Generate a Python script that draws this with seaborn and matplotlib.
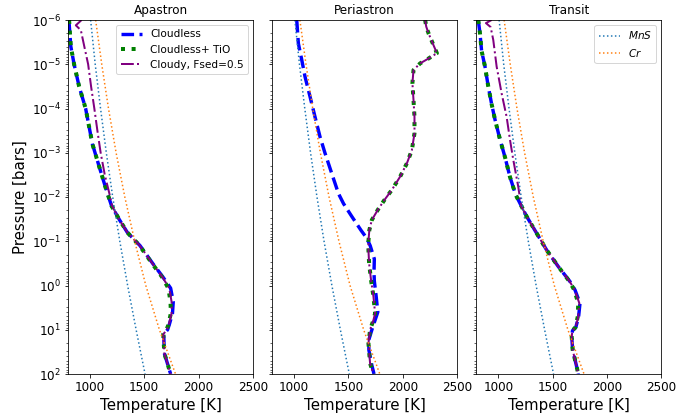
import numpy as np
import pandas as pd
import matplotlib
matplotlib.use("Agg")
import matplotlib.pyplot as plt
import seaborn as sns

# ---------------- data ----------------
panel_titles = ["Apastron", "Periastron", "Transit"]
series_labels = ["Cloudless", "Cloudless+ TiO", "Cloudy, Fsed=0.5"]
cond_labels = ["$MnS$", "$Cr$"]
x_ticks = [1000, 1500, 2000, 2500]

# condensation curves (log10 P [bar], T [K])
cond_logp = [-6, -5, -4, -3, -2, -1, 0, 1, 2]
mns_T = [1008, 1050, 1099, 1152, 1211, 1276, 1348, 1426, 1508]
cr_T = [1054, 1110, 1172, 1242, 1322, 1413, 1515, 1640, 1788]

# Apastron
apa_logp = [-6.0, -5.4, -5.0, -4.5, -4.0, -3.2, -2.7, -2.2, -1.8, -1.5, -1.2, -0.9,
            -0.5, -0.2, 0.06, 0.37, 0.63, 0.89, 1.0, 1.1, 1.53, 2.0]
apa_cloudless_T = [808, 826, 856, 902, 962, 1024, 1085, 1147, 1200, 1269, 1345, 1462,
                   1578, 1670, 1743, 1767, 1760, 1730, 1715, 1680, 1685, 1743]
apa_tio_T = [810, 826, 856, 902, 962, 1024, 1085, 1147, 1200, 1269, 1345, 1458,
             1572, 1662, 1722, 1742, 1745, 1722, 1705, 1675, 1685, 1743]
apa_cloudy_logp = [-6.0, -5.88, -5.77, -5.4, -5.0, -4.5, -4.0, -3.5, -3.0, -2.5, -2.1,
                   -1.8, -1.5, -1.2, -0.9, -0.5, -0.2, 0.06, 0.37, 0.63, 0.89, 1.0,
                   1.1, 1.53, 2.0]
apa_cloudy_T = [925, 872, 918, 950, 985, 1012, 1042, 1070, 1100, 1138, 1178,
                1205, 1269, 1345, 1460, 1575, 1665, 1730, 1752, 1752, 1725, 1708,
                1676, 1685, 1743]

# Periastron
per_cloudless_logp = [-6.0, -5.47, -5.1, -4.72, -4.27, -3.81, -3.36, -2.99, -2.53,
                      -2.08, -1.85, -1.56, -1.25, -1.07, -0.9, -0.6, -0.3, -0.1,
                      0.25, 0.6, 0.95, 1.23, 1.46, 1.8, 2.0]
per_cloudless_T = [1025, 1040, 1071, 1101, 1147, 1193, 1239, 1285, 1347,
                   1408, 1455, 1531, 1615, 1668, 1700, 1738, 1735, 1738,
                   1755, 1770, 1722, 1687, 1688, 1715, 1735]
per_hot_logp = [-6.0, -5.85, -5.7, -5.47, -5.25, -5.13, -5.02, -4.87, -4.57, -4.19,
                -3.81, -3.44, -3.06, -2.76, -2.46, -2.16, -1.93, -1.71, -1.48, -1.25,
                -1.0, -0.8, -0.5, -0.12, 0.25, 0.63, 0.78, 1.0, 1.31, 1.76, 2.0]
per_tio_T = [2205, 2215, 2236, 2275, 2313, 2236, 2159, 2098, 2088, 2098,
             2107, 2107, 2083, 2037, 1975, 1899, 1830, 1770, 1715, 1692,
             1684, 1684, 1690, 1708, 1730, 1745, 1730, 1699, 1684, 1699, 1730]
per_cloudy_T = [2205, 2215, 2236, 2275, 2313, 2236, 2159, 2098, 2088, 2098,
                2107, 2107, 2083, 2037, 1975, 1899, 1830, 1770, 1715, 1692,
                1684, 1684, 1690, 1708, 1730, 1745, 1730, 1699, 1684, 1699, 1730]

# Transit
tr_logp = [-6.0, -5.7, -5.3, -4.95, -4.5, -4.1, -3.75, -3.3, -2.9, -2.45, -2.05,
           -1.56, -1.18, -0.8, -0.43, -0.09, 0.10, 0.40, 0.71, 0.95, 1.02, 1.16,
           1.46, 1.83, 2.0]
tr_cloudless_T = [816, 832, 847, 878, 908, 939, 970, 1016, 1062, 1108, 1160,
                  1261, 1353, 1445, 1551, 1659, 1705, 1751, 1738, 1712, 1682, 1675,
                  1684, 1720, 1735]
tr_tio_T = [816, 832, 847, 878, 908, 939, 970, 1016, 1062, 1108, 1160,
            1261, 1353, 1445, 1551, 1655, 1698, 1735, 1730, 1708, 1680, 1675,
            1684, 1720, 1735]
tr_cloudy_logp = [-6.0, -5.93, -5.84, -5.55, -4.95, -4.34, -3.81, -3.29, -2.84,
                  -2.23, -1.8, -1.56, -1.18, -0.8, -0.43, -0.09, 0.10, 0.40, 0.71,
                  0.95, 1.02, 1.16, 1.46, 1.83, 2.0]
tr_cloudy_T = [939, 887, 930, 954, 985, 1031, 1077, 1108, 1138,
               1184, 1210, 1261, 1353, 1445, 1551, 1657, 1702, 1745, 1735,
               1710, 1681, 1675, 1684, 1720, 1735]

panels = [
    [(apa_logp, apa_cloudless_T), (apa_logp, apa_tio_T), (apa_cloudy_logp, apa_cloudy_T)],
    [(per_cloudless_logp, per_cloudless_T), (per_hot_logp, per_tio_T), (per_hot_logp, per_cloudy_T)],
    [(tr_logp, tr_cloudless_T), (tr_logp, tr_tio_T), (tr_cloudy_logp, tr_cloudy_T)],
]

# ---------------- styling ----------------
series_styles = [
    dict(color="blue", linestyle="--", linewidth=3.4),
    dict(color="green", linestyle=":", linewidth=4),
    dict(color="purple", linestyle="-.", linewidth=2),
]
cond_styles = [
    dict(color="tab:blue", linestyle=":", linewidth=1.5),
    dict(color="tab:orange", linestyle=":", linewidth=1.5),
]

DPI = 72
fig = plt.figure(figsize=(699 / DPI, 417 / DPI), dpi=DPI)
axes = fig.subplots(1, 3, sharey=True)
fig.subplots_adjust(left=68 / 699, right=661.5 / 699, bottom=1 - 374 / 417,
                    top=1 - 20 / 417, wspace=0.104)

for i, ax in enumerate(axes):
    handles = []
    for (lp, T), lab, st in zip(panels[i], series_labels, series_styles):
        df = pd.DataFrame({"T": T, "P": 10.0 ** np.asarray(lp)})
        sns.lineplot(data=df, x="T", y="P", sort=False, estimator=None,
                     ax=ax, label=lab, legend=False, **st)
        handles.append(ax.lines[-1])
    chandles = []
    for T, lab, st in zip([mns_T, cr_T], cond_labels, cond_styles):
        df = pd.DataFrame({"T": T, "P": 10.0 ** np.asarray(cond_logp)})
        sns.lineplot(data=df, x="T", y="P", sort=False, estimator=None,
                     ax=ax, label=lab, legend=False, **st)
        chandles.append(ax.lines[-1])

    ax.set_yscale("log")
    ax.set_xlim(800, 2500)
    ax.set_xticks(x_ticks)
    ax.set_title(panel_titles[i], fontsize=12)
    ax.set_xlabel("Temperature [K]", fontsize=15)
    ax.set_ylabel("")
    ax.tick_params(labelsize=12)
    leg = ax.get_legend()
    if leg is not None:
        leg.remove()
    if i == 0:
        ax.legend(handles=handles, labels=series_labels, loc="upper right", fontsize=10.5)
    if i == 2:
        ax.legend(handles=chandles, labels=cond_labels, loc="upper right", fontsize=10.5)

axes[0].set_ylim(1e2, 1e-6)
axes[0].set_ylabel("Pressure [bars]", fontsize=15)

fig.savefig("out.png", dpi=DPI)
